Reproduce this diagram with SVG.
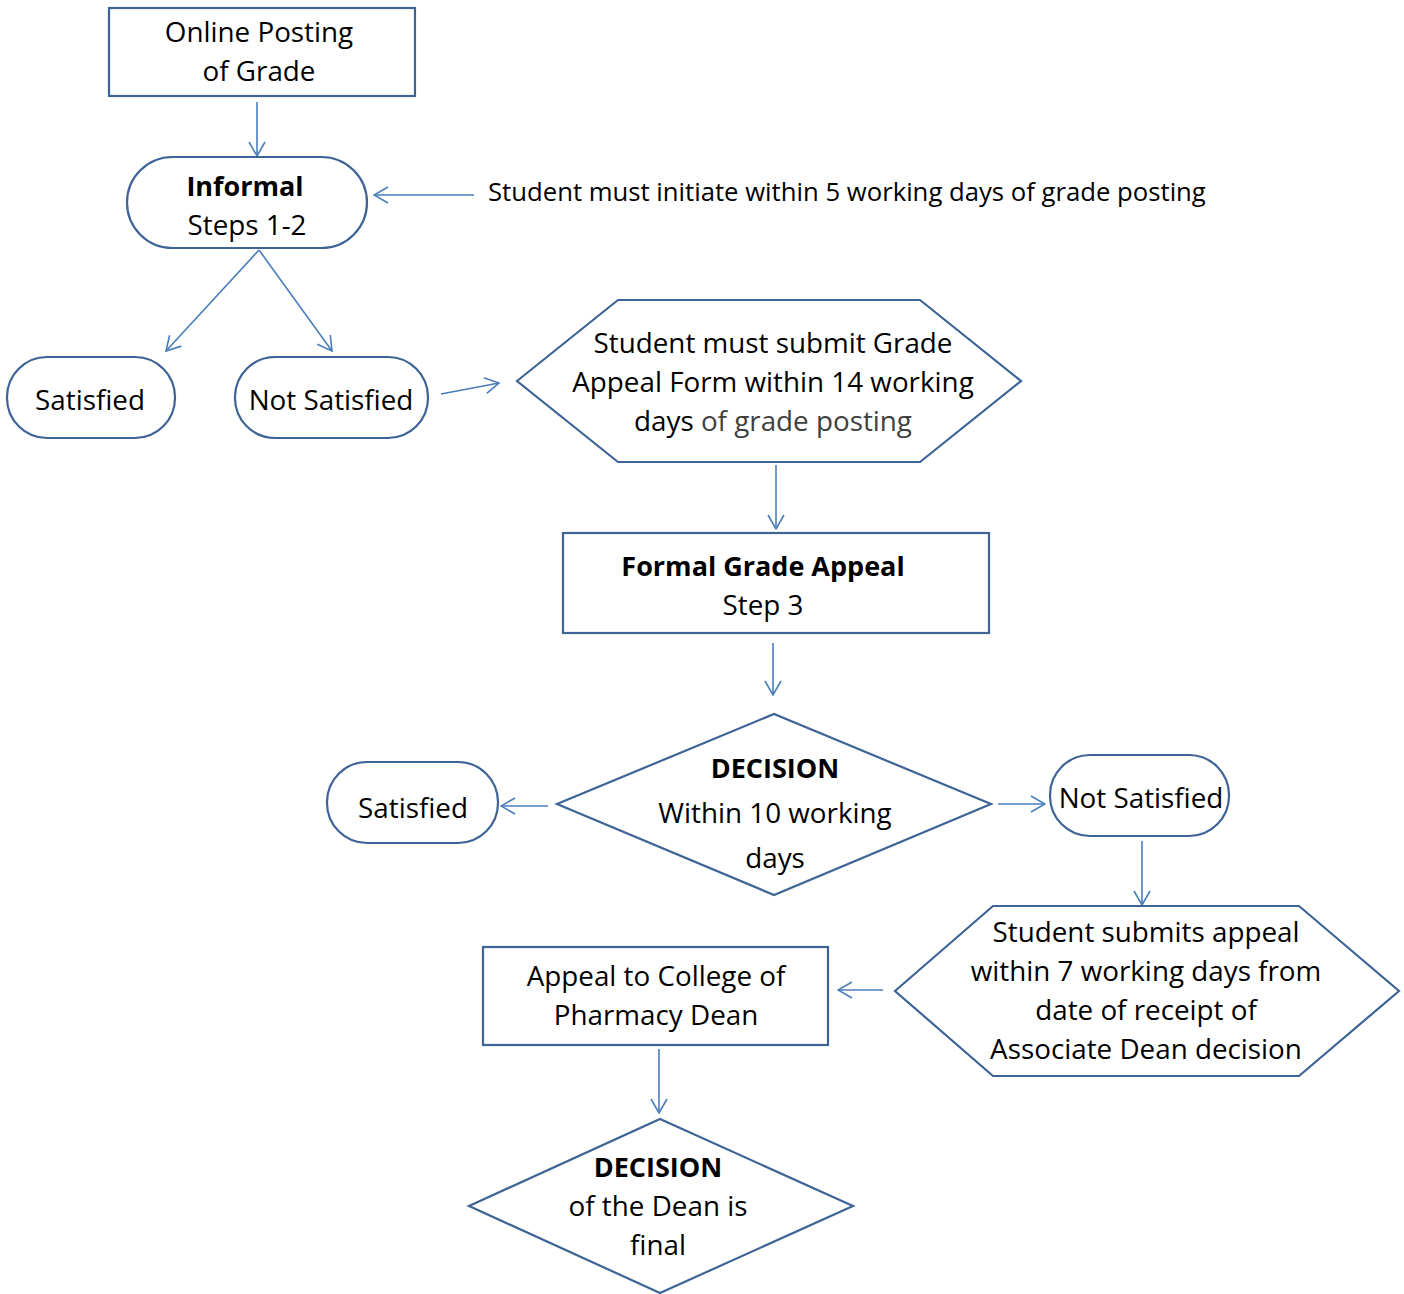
<svg xmlns="http://www.w3.org/2000/svg" width="1404" height="1294" viewBox="0 0 1404 1294">
<style>
.n{fill:#fff;stroke:#3E6396;stroke-width:2.2}
.t{font-family:"Open Sans","Liberation Sans",sans-serif;font-size:27.8px;fill:#000;text-anchor:middle}
.b{font-weight:bold;font-size:27px}
.s{font-size:25.7px;text-anchor:start}
.g{fill:#404040}
.c{fill:none;stroke:#4A7EBB;stroke-width:1.6}
</style>
<defs>
<marker id="ah" viewBox="0 0 16 20" refX="15" refY="10" markerWidth="16" markerHeight="20" markerUnits="userSpaceOnUse" orient="auto">
<path d="M1,2 L15,10 L1,18" fill="none" stroke="#4A7EBB" stroke-width="1.6"/>
</marker>
</defs>
<rect width="1404" height="1294" fill="#fff"/>
<g id="connectors">
<line class="c" x1="257" y1="102" x2="257" y2="156" marker-end="url(#ah)"/>
<line class="c" x1="474" y1="195" x2="374" y2="195" marker-end="url(#ah)"/>
<line class="c" x1="259" y1="250" x2="166" y2="351" marker-end="url(#ah)"/>
<line class="c" x1="259" y1="250" x2="332" y2="351" marker-end="url(#ah)"/>
<line class="c" x1="441" y1="394" x2="499" y2="383" marker-end="url(#ah)"/>
<line class="c" x1="776" y1="465" x2="776" y2="529" marker-end="url(#ah)"/>
<line class="c" x1="773" y1="643" x2="773" y2="695" marker-end="url(#ah)"/>
<line class="c" x1="548" y1="806" x2="501" y2="806" marker-end="url(#ah)"/>
<line class="c" x1="998" y1="804" x2="1045" y2="804" marker-end="url(#ah)"/>
<line class="c" x1="1142" y1="841" x2="1142" y2="905" marker-end="url(#ah)"/>
<line class="c" x1="883" y1="990" x2="838" y2="990" marker-end="url(#ah)"/>
<line class="c" x1="659" y1="1049" x2="659" y2="1113" marker-end="url(#ah)"/>
</g>
<g id="online-posting">
<rect class="n" x="109" y="8" width="306" height="88"/>
<text class="t" x="259" y="42">Online Posting</text>
<text class="t" x="259" y="81">of Grade</text>
</g>
<g id="informal">
<rect class="n" x="127" y="157" width="240" height="91" rx="45.5"/>
<text class="t b" x="245" y="196">Informal</text>
<text class="t" x="247" y="235">Steps 1-2</text>
</g>
<g id="note">
<text class="t s" x="488" y="201">Student must initiate within 5 working days of grade posting</text>
</g>
<g id="satisfied-1">
<rect class="n" x="7" y="357" width="168" height="81" rx="40"/>
<text class="t" x="90" y="410">Satisfied</text>
</g>
<g id="not-satisfied-1">
<rect class="n" x="235" y="357" width="193" height="81" rx="40"/>
<text class="t" x="331" y="410">Not Satisfied</text>
</g>
<g id="submit-form">
<polygon class="n" points="517,381 618,300 920,300 1021,381 920,462 618,462"/>
<text class="t" x="773" y="353">Student must submit Grade</text>
<text class="t" x="773" y="392">Appeal Form within 14 working</text>
<text class="t" x="773" y="431">days <tspan class="g">of grade posting</tspan></text>
</g>
<g id="formal">
<rect class="n" x="563" y="533" width="426" height="100"/>
<text class="t b" x="763" y="576">Formal Grade Appeal</text>
<text class="t" x="763" y="615">Step 3</text>
</g>
<g id="decision-1">
<polygon class="n" points="557,804 774,714 991,804 774,895"/>
<text class="t b" x="775" y="778">DECISION</text>
<text class="t" x="775" y="823">Within 10 working</text>
<text class="t" x="775" y="868">days</text>
</g>
<g id="satisfied-2">
<rect class="n" x="327" y="762" width="171" height="81" rx="40"/>
<text class="t" x="413" y="818">Satisfied</text>
</g>
<g id="not-satisfied-2">
<rect class="n" x="1050" y="755" width="179" height="81" rx="40"/>
<text class="t" x="1141" y="808">Not Satisfied</text>
</g>
<g id="submit-appeal">
<polygon class="n" points="895,991 993,906 1299,906 1399,991 1299,1076 993,1076"/>
<text class="t" x="1146" y="942">Student submits appeal</text>
<text class="t" x="1146" y="981">within 7 working days from</text>
<text class="t" x="1146" y="1020">date of receipt of</text>
<text class="t" x="1146" y="1059">Associate Dean decision</text>
</g>
<g id="appeal-dean">
<rect class="n" x="483" y="947" width="345" height="98"/>
<text class="t" x="656" y="986">Appeal to College of</text>
<text class="t" x="656" y="1025">Pharmacy Dean</text>
</g>
<g id="decision-2">
<polygon class="n" points="469,1206 660,1119 853,1206 660,1293"/>
<text class="t b" x="658" y="1177">DECISION</text>
<text class="t" x="658" y="1216">of the Dean is</text>
<text class="t" x="658" y="1255">final</text>
</g>
</svg>
